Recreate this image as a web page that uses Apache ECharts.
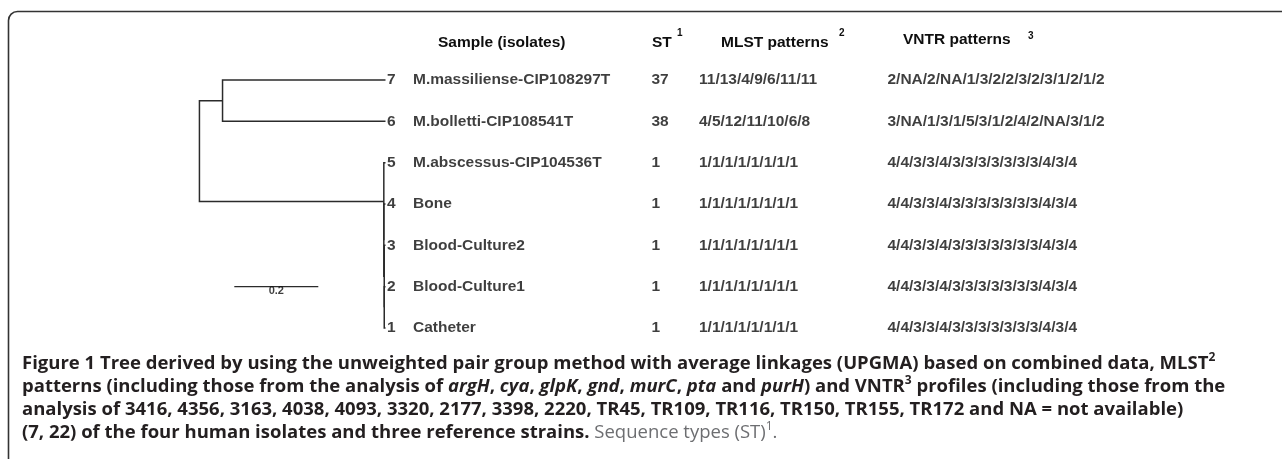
<!DOCTYPE html>
<html>
<head>
<meta charset="utf-8">
<title>Figure 1</title>
<script src="https://cdn.jsdelivr.net/npm/echarts@6/dist/echarts.min.js"></script>
<style>
	html,body{margin:0;padding:0;background:#fff;}
	#main{width:1282px;height:459px;}
</style>
</head>
<body>
<div id="main"></div>
<script>
// leaves, listed bottom to top
var leafIds		= ['1','2','3','4','5','6','7'];
var samples		= ['Catheter','Blood-Culture1','Blood-Culture2','Bone','M.abscessus-CIP104536T','M.bolletti-CIP108541T','M.massiliense-CIP108297T'];
var stTypes		= ['1','1','1','1','1','38','37'];
var mlstPatterns	= ['1/1/1/1/1/1/1/1','1/1/1/1/1/1/1/1','1/1/1/1/1/1/1/1','1/1/1/1/1/1/1/1','1/1/1/1/1/1/1/1','4/5/12/11/10/6/8','11/13/4/9/6/11/11'];
var vntrPatterns	= ['4/4/3/3/4/3/3/3/3/3/3/3/4/3/4','4/4/3/3/4/3/3/3/3/3/3/3/4/3/4','4/4/3/3/4/3/3/3/3/3/3/3/4/3/4','4/4/3/3/4/3/3/3/3/3/3/3/4/3/4','4/4/3/3/4/3/3/3/3/3/3/3/4/3/4','3/NA/1/3/1/5/3/1/2/4/2/NA/3/1/2','2/NA/2/NA/1/3/2/2/3/2/3/1/2/1/2'];
// UPGMA joins : [child, child, height], internal nodes get the names n0, n1 ...
var joins = [
	['1','2',0.003],
	['3','n0',0.003],
	['4','n1',0.004],
	['5','n2',0.004],
	['6','7',0.388],
	['n3','n4',0.443]
];
var scaleLength = 0.2;

var fig = {
	ink : '#0e0e0e',
	font : 'Liberation Sans',
	init : function(){
		var chart = echarts.init(document.getElementById('main'), null, {renderer:'canvas'});
		chart.setOption(this.option());
	},
	// dendrogram elbows from the joins
	treeLinks : function(){
		var pos = {};
		var links = [];
		leafIds.forEach(function(id,i){
			pos[id] = {h:0, y:i+1};
		});
		joins.forEach(function(j,k){
			var a = pos[j[0]], b = pos[j[1]];
			pos['n'+k] = {h:j[2], y:(a.y+b.y)/2};
			links.push({coords:[[a.h,a.y],[j[2],a.y],[j[2],b.y],[b.h,b.y]]});
		});
		return links;
	},
	column : function(list,dist){
		return {
			type:'scatter',
			symbolSize:0,
			silent:true,
			clip:false,
			data:leafIds.map(function(id,i){ return [0,i+1]; }),
			label:{
				show:true,
				position:'right',
				distance:dist,
				formatter:function(p){ return list[p.dataIndex]; },
				fontFamily:fig.font,
				fontWeight:'bold',
				fontSize:15.5,
				color:fig.ink
			}
		};
	},
	head : function(text,left,top,size){
		return {
			text:text, left:left, top:top, padding:0,
			textStyle:{fontFamily:fig.font, fontWeight:'bold', fontSize:size || 15.5, lineHeight:size ? 12 : 20, color:fig.ink}
		};
	},
	caption : function(){
		var dark = '#231f20', grey = '#6d6e71', cf = 'Open Sans', fs = 18.5;
		var lines = [
			'{b|Figure 1 Tree derived by using the unweighted pair group method with average linkages (UPGMA) based on combined data, MLST}{sup|2}',
			'{b|patterns (including those from the analysis of }{bi|argH}{b|, }{bi|cya}{b|, }{bi|glpK}{b|, }{bi|gnd}{b|, }{bi|murC}{b|, }{bi|pta}{b| and }{bi|purH}{b|) and VNTR}{sup|3}{b| profiles (including those from the}',
			'{b|analysis of 3416, 4356, 3163, 4038, 4093, 3320, 2177, 3398, 2220, TR45, TR109, TR116, TR150, TR155, TR172 and NA = not available)}',
			'{b|(7, 22) of the four human isolates and three reference strains.}{g| Sequence types (ST)}{gsup|1}{g|.}'
		];
		return {
			text:lines.join('\n'), left:22, top:352, padding:0,
			textStyle:{
				rich:{
					b:{fontFamily:cf, fontWeight:'bold', fontSize:fs, lineHeight:23, color:dark},
					bi:{fontFamily:cf, fontWeight:'bold', fontStyle:'italic', fontSize:fs, lineHeight:23, color:dark},
					sup:{fontFamily:cf, fontWeight:'bold', fontSize:12, lineHeight:14, verticalAlign:'top', color:dark},
					g:{fontFamily:cf, fontWeight:'normal', fontSize:fs, lineHeight:23, color:grey},
					gsup:{fontFamily:cf, fontWeight:'normal', fontSize:12, lineHeight:14, verticalAlign:'top', color:grey}
				}
			}
		};
	},
	option : function(){
		return {
			animation:false,
			backgroundColor:'#fff',
			title:[
				this.head('Sample (isolates)',438,33),
				this.head('ST',652,33),
				this.head('1',677,27,10),
				this.head('MLST patterns',721,33),
				this.head('2',839,27,10),
				this.head('VNTR patterns',903,30),
				this.head('3',1028,30,10),
				this.caption()
			],
			graphic:[{
				type:'rect',
				shape:{x:8.5, y:11.5, width:1600, height:900, r:9},
				style:{fill:'none', stroke:'#333', lineWidth:1.6},
				silent:true
			}],
			grid:{left:175.5, top:59.33, width:231, height:289.33},
			xAxis:{type:'value', inverse:true, min:-0.05, max:0.5, show:false},
			yAxis:{type:'value', min:0.5, max:7.5, show:false},
			series:[
				{
					type:'lines',
					coordinateSystem:'cartesian2d',
					polyline:true,
					silent:true,
					data:this.treeLinks(),
					lineStyle:{color:'#2b2b2b', width:1.5, opacity:1, curveness:0}
				},
				{
					type:'lines',
					coordinateSystem:'cartesian2d',
					polyline:true,
					silent:true,
					data:[{coords:[[0.16,2],[0.16+scaleLength,2]]}],
					lineStyle:{color:'#2b2b2b', width:1.2, opacity:1, curveness:0}
				},
				{
					type:'scatter',
					symbolSize:0,
					silent:true,
					data:[[0.16+scaleLength/2,2]],
					label:{show:true, position:'bottom', distance:-1, formatter:String(scaleLength), fontFamily:fig.font, fontWeight:'bold', fontSize:11, color:fig.ink}
				},
				this.column(leafIds,1.5),
				this.column(samples,27.5),
				this.column(stTypes,266),
				this.column(mlstPatterns,313.5),
				this.column(vntrPatterns,502)
			]
		};
	}
};

fig.init();
</script>
</body>
</html>
